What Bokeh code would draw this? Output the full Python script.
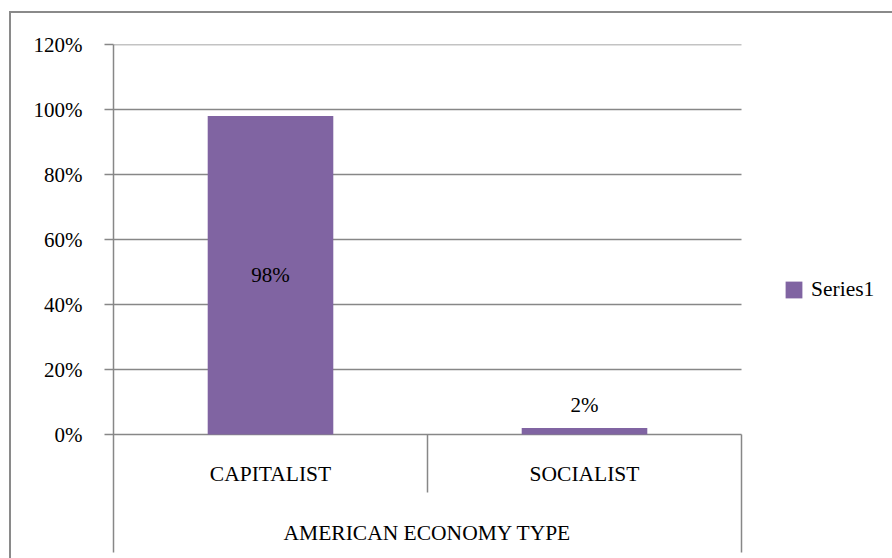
from bokeh.plotting import figure
from bokeh.models import Range1d, FixedTicker, Legend, LegendItem, ColumnDataSource
from bokeh.core.properties import value
from bokeh.embed import file_html
from bokeh.resources import INLINE

# ---- data ----
categories = ["CAPITALIST", "SOCIALIST"]
values = [98, 2]                      # percent
y_ticks = [0, 20, 40, 60, 80, 100, 120]
axis_title = "AMERICAN ECONOMY TYPE"
series_name = "Series1"

# ---- styles ----
BAR = "#8064A2"
GRID = "#878787"
SERIF = "Liberation Serif"
NUM_FONT = "Liberation Serif"
NUM_SIZE = "21px"

W, H = 881, 545
LEFT, TOP = 102, 31
PLOT_W = 628                           # width of the category area in px
FRAME_W = W - LEFT
FRAME_H = H - TOP
ZERO_PX = 390                          # px from frame top to the 0 line
Y_MAX = y_ticks[-1]
UNIT = ZERO_PX / Y_MAX                 # px per percent
Y_MIN = -(FRAME_H - ZERO_PX) / UNIT

def px(d):
    return d / UNIT

n = len(categories)
centers = [i + 0.5 for i in range(n)]
X_END = n * FRAME_W / PLOT_W

p = figure(frame_width=FRAME_W, frame_height=FRAME_H,
           x_range=Range1d(0, X_END), y_range=Range1d(Y_MIN, Y_MAX),
           output_backend="svg", toolbar_location=None, x_axis_location=None,
           min_border_left=LEFT, min_border_right=0, min_border_top=TOP,
           min_border_bottom=0)
p.styles = {"margin-left": "9px", "margin-top": "11px",
            "border-left": "2px solid #8a8a8a", "border-top": "2px solid #8a8a8a"}
p.outline_line_color = None
p.background_fill_color = "white"
p.border_fill_color = "white"
p.xgrid.visible = False
p.ygrid.visible = False

ticker = FixedTicker(ticks=y_ticks)
ax = p.yaxis[0]
ax.ticker = ticker
ax.bounds = (-px(118), Y_MAX)
ax.axis_line_color = GRID
ax.axis_line_width = 1.5
ax.major_tick_line_color = GRID
ax.major_tick_line_width = 1.5
ax.major_tick_out = 9
ax.major_tick_in = 0
ax.minor_tick_line_color = None
ax.major_label_standoff = 22
ax.major_label_text_font = NUM_FONT
ax.major_label_text_font_size = NUM_SIZE
ax.major_label_text_color = "black"
ax.major_label_overrides = {t: f"{t}%" for t in y_ticks}

# horizontal gridlines across the category area
p.segment(x0=[0] * len(y_ticks), x1=[n] * len(y_ticks), y0=y_ticks, y1=y_ticks,
          line_color=GRID, line_width=1.5)

src = ColumnDataSource(dict(x=centers, top=values, cat=categories))
bars = p.vbar(x="x", top="top", width=0.4, bottom=0, source=src,
              fill_color=BAR, line_color=None)

# category separators
seps_x = list(range(1, n + 1))
seps_end = [-px(58) if b < n else -px(118) for b in seps_x]
p.segment(x0=seps_x, y0=[0] * n, x1=seps_x, y1=seps_end,
          line_color=GRID, line_width=1.5)

# data labels: center if large, outside end if small
lab_y = [v / 2 if v > 10 else v for v in values]
lab_off = [0 if v > 10 else -23 for v in values]
lab_src = ColumnDataSource(dict(x=centers, y=lab_y, off=lab_off,
                                t=[f"{v}%" for v in values]))
p.text(x="x", y="y", text="t", y_offset="off", source=lab_src,
       text_font=value(NUM_FONT), text_font_size=NUM_SIZE, text_color="black",
       text_align="center", text_baseline="middle")

# category labels + axis title
p.text(x=centers, y=[-px(39)] * n, text=categories,
       text_font=value(SERIF), text_font_size="21.5px", text_color="black",
       text_align="center", text_baseline="middle")
p.text(x=[n / 2], y=[-px(98)], text=[axis_title],
       text_font=value(SERIF), text_font_size="21.5px", text_color="black",
       text_align="center", text_baseline="middle")

legend = Legend(items=[LegendItem(label=series_name, renderers=[bars])],
                location=(670, 256), glyph_width=21, glyph_height=21,
                label_text_font=SERIF, label_text_font_size="21.5px",
                label_text_color="black", label_standoff=7,
                padding=0, margin=0, spacing=0,
                border_line_color=None, background_fill_alpha=0)
p.add_layout(legend, "center")

open("out.html", "w").write(file_html(p, INLINE))
